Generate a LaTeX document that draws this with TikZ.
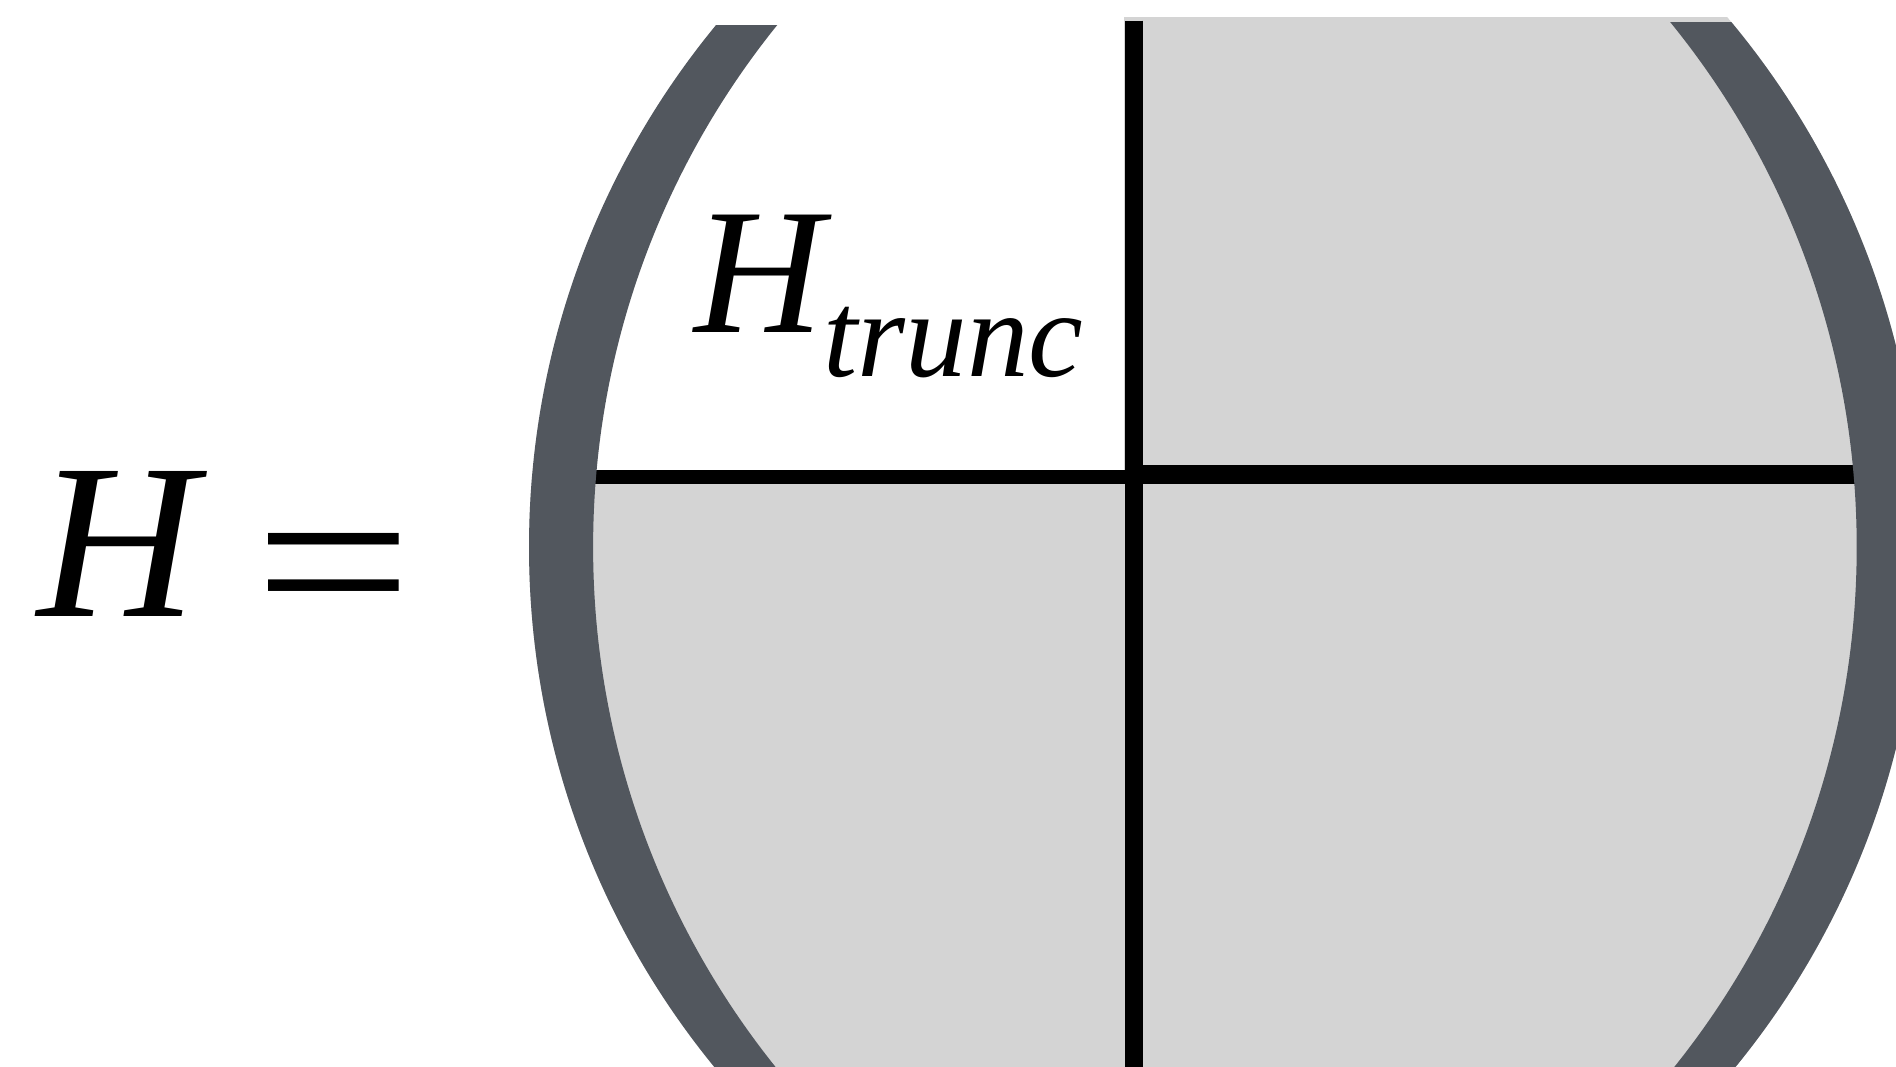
\documentclass[tikz,border=0pt]{standalone}
\usepackage{fontspec}
\setmainfont{Liberation Serif}
\usepackage{tikz}
\definecolor{parengray}{RGB}{82,87,94}
\definecolor{blockgray}{RGB}{212,212,212}

\begin{document}
\begin{tikzpicture}[x=0.012092cm, y=-0.012092cm,
      paren/.style={fill=parengray, draw=none, even odd rule},
      block/.style={fill=blockgray, draw=none},
      rule/.style={draw=black, line cap=butt},
      every node/.style={inner sep=0pt, outer sep=0pt}
    ]
    \clip (0,0) rectangle (1568,882);
    \fill[white] (0,0) rectangle (1568,882);

    % gray blocks (all but the upper left one)
    \begin{scope}
      \clip (1117.3,452.4) circle (679.8);
      \clip (908.7,452.4) circle (679.8);
      \fill[block] (929.6,14.3) rectangle (1600,890);
      \fill[block] (400,394) rectangle (940,890);
    \end{scope}

    % block borders
    \draw[rule, line width=5.1pt] (937.8,17.1) -- (937.8,882);
    \draw[rule, line width=4pt]   (480,394.5) -- (937.8,394.5);
    \draw[rule, line width=5.4pt] (937.8,392.4) -- (1545,392.4);

    % left parenthesis
    \begin{scope}
      \clip (0,20.7) rectangle (1013,884);
      \fill[paren] (1117.3,452.4) circle (679.8) (1178.5,452.4) circle (688);
    \end{scope}
    % right parenthesis
    \begin{scope}
      \clip (1013,18.8) rectangle (1600,884);
      \fill[paren] (908.7,452.4) circle (679.8) (847.5,452.4) circle (688);
    \end{scope}

    % labels
    \node[anchor=base west, font=\fontsize{63}{63}\selectfont\itshape] (lhs) at (31,510) {H};
    \node[anchor=base, font=\fontsize{66}{66}\selectfont] (eq) at (276,528.5) {\scalebox{1.21}[1]{=}};
    \node[anchor=base west, font=\fontsize{51}{51}\selectfont\itshape] (htrunc) at (574,275)
      {H\raisebox{-12.4pt}{\fontsize{35}{35}\selectfont trunc}};
  \end{tikzpicture}
\end{document}
